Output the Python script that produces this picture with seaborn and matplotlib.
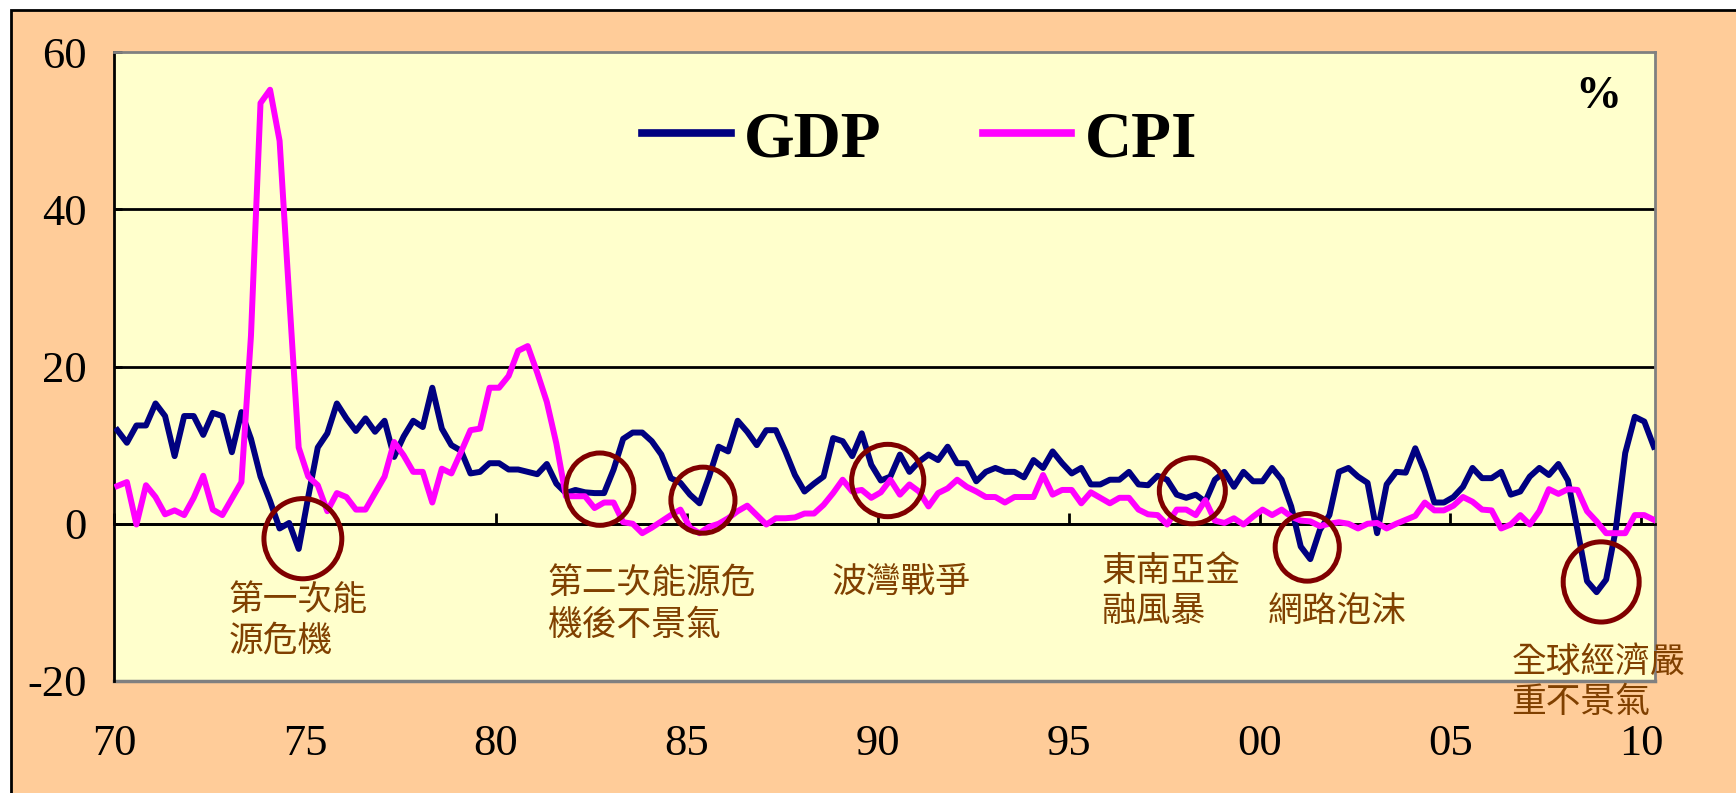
import matplotlib
matplotlib.use('Agg')
import matplotlib.pyplot as plt
from matplotlib.patches import Ellipse, Rectangle
from matplotlib.lines import Line2D
import numpy as np
import pandas as pd
import seaborn as sns

# Quarterly growth rates (%), 1970Q1 - 2010Q2
gdp = [11.9, 10.3, 12.5, 12.5, 15.3, 13.7, 8.6, 13.7, 13.7, 11.3,
       14.1, 13.7, 9.1, 14.2, 10.8, 6.0, 2.9, -0.6, 0.1, -3.2,
       3.4, 9.7, 11.5, 15.3, 13.4, 11.8, 13.4, 11.7, 13.1, 8.5,
       11.1, 13.1, 12.3, 17.3, 12.1, 10.0, 9.3, 6.4, 6.6, 7.7,
       7.7, 6.9, 6.9, 6.6, 6.3, 7.6, 5.1, 3.9, 4.3, 4.0,
       3.9, 3.9, 6.9, 10.8, 11.6, 11.6, 10.5, 8.8, 5.8, 5.2,
       3.7, 2.6, 6.0, 9.8, 9.2, 13.1, 11.7, 10.0, 11.9, 11.9,
       9.2, 6.2, 4.1, 5.1, 6.0, 10.9, 10.5, 8.6, 11.5, 7.5,
       5.5, 6.0, 8.8, 6.6, 7.9, 8.8, 8.1, 9.8, 7.7, 7.7,
       5.4, 6.6, 7.1, 6.6, 6.6, 5.9, 8.1, 7.1, 9.2, 7.7,
       6.4, 7.1, 5.0, 5.0, 5.6, 5.6, 6.6, 5.0, 4.9, 6.1,
       5.6, 3.7, 3.3, 3.7, 2.8, 5.6, 6.6, 4.7, 6.6, 5.4,
       5.4, 7.1, 5.6, 2.2, -2.9, -4.5, -0.8, 1.1, 6.6, 7.1,
       6.0, 5.2, -1.2, 5.0, 6.6, 6.5, 9.6, 6.6, 2.7, 2.7,
       3.4, 4.7, 7.1, 5.8, 5.8, 6.6, 3.7, 4.1, 6.0, 7.1,
       6.2, 7.6, 5.5, -0.8, -7.3, -8.7, -7.1, -0.8, 9.0, 13.6,
       13.0, 9.8]

cpi = [4.8, 5.3, -0.1, 4.9, 3.4, 1.2, 1.7, 1.1, 3.3, 6.1,
       1.8, 1.1, 3.2, 5.3, 23.9, 53.5, 55.2, 48.7, 29.0, 9.7,
       6.0, 4.9, 1.6, 3.9, 3.4, 1.8, 1.8, 3.9, 6.0, 10.4,
       8.7, 6.6, 6.6, 2.7, 7.0, 6.4, 9.1, 11.9, 12.1, 17.3,
       17.3, 18.8, 22.0, 22.6, 19.2, 15.5, 10.2, 3.5, 3.5, 3.5,
       2.0, 2.7, 2.7, 0.2, 0.0, -1.2, -0.5, 0.3, 1.1, 1.8,
       -0.5, -1.2, -0.4, 0.0, 0.7, 1.6, 2.3, 1.1, -0.1, 0.7,
       0.7, 0.8, 1.3, 1.3, 2.4, 3.9, 5.6, 4.1, 4.3, 3.3,
       4.0, 5.6, 3.7, 5.0, 4.1, 2.2, 3.9, 4.5, 5.6, 4.7,
       4.1, 3.4, 3.4, 2.7, 3.4, 3.4, 3.4, 6.2, 3.7, 4.3,
       4.3, 2.6, 4.0, 3.3, 2.6, 3.3, 3.3, 1.8, 1.2, 1.1,
       -0.1, 1.8, 1.8, 1.1, 3.0, 0.4, 0.1, 0.7, -0.1, 0.9,
       1.8, 1.1, 1.8, 0.9, 0.4, 0.3, -0.3, 0.0, 0.2, 0.0,
       -0.6, 0.0, 0.1, -0.6, 0.0, 0.5, 1.0, 2.7, 1.7, 1.7,
       2.3, 3.4, 2.8, 1.8, 1.7, -0.6, -0.1, 1.1, -0.1, 1.6,
       4.4, 3.8, 4.4, 4.3, 1.6, 0.3, -1.2, -1.2, -1.2, 1.1,
       1.1, 0.5]

year = np.repeat(np.arange(1970, 2011), 4)[:len(gdp)]
quarter = np.tile([1, 2, 3, 4], 41)[:len(gdp)]

tick_years = [1970, 1975, 1980, 1985, 1990, 1995, 2000, 2005, 2010]
tick_labels = ['70', '75', '80', '85', '90', '95', '00', '05', '10']

# recessions marked with circles
event_labels = ['第一次能\n源危機', '第二次能源危\n機後不景氣', '波灣戰爭',
                '東南亞金\n融風暴', '網路泡沫', '全球經濟嚴\n重不景氣']
event_text_pos = [(1973.0, -12.3), (1981.34, -10.3), (1988.8, -7.4),
                  (1995.85, -8.6), (2000.22, -11.2), (2006.6, -20.2)]
circle_pos = [(1974.94, -1.9), (1982.72, 4.4), (1985.42, 3.0), (1990.26, 5.5),
              (1998.24, 4.2), (2001.25, -3.0), (2008.95, -7.4)]
circle_size = [(2.04, 10.2), (1.78, 9.2), (1.68, 8.4), (1.89, 9.2),
               (1.73, 8.4), (1.68, 8.6), (1.99, 10.2)]

df = pd.DataFrame({'t': year + (quarter - 1) / 4 + 0.08, 'GDP': gdp, 'CPI': cpi})
df = df.melt(id_vars='t', var_name='series', value_name='value')

plt.rcParams['font.family'] = ['Liberation Serif', 'Noto Sans CJK TC']
plt.rcParams['axes.unicode_minus'] = False

fig = plt.figure(figsize=(17.36, 7.93), dpi=100, facecolor='white')
# peach chart area with black frame on the left/top
fig.patches.append(Rectangle((11 / 1736, -0.05), 1.2, 1.05 - 10 / 793, transform=fig.transFigure,
                             facecolor='#FFCC99', edgecolor='black', lw=2, zorder=-10))

ax = fig.add_axes([114.3 / 1736, 1 - 681 / 793, (1655 - 114.3) / 1736, 629 / 793])
ax.set_facecolor('#FFFFCC')

sns.lineplot(data=df, x='t', y='value', hue='series',
             palette={'GDP': '#000080', 'CPI': '#FF00FF'},
             linewidth=4.3, estimator=None, sort=False, ax=ax, zorder=3)

ax.set_xlim(1970, 2010.36)
ax.set_ylim(-20, 60)
ax.set_xlabel('')
ax.set_ylabel('')

ax.set_yticks([-20, 0, 20, 40, 60])
ax.set_xticks(tick_years)
ax.set_xticklabels(tick_labels)

ax.yaxis.grid(True, color='black', lw=2)
gl = ax.get_ygridlines()
gl[0].set_visible(False)
gl[-1].set_visible(False)
ax.set_axisbelow(True)

# x axis runs along zero line, labels sit below the plot
ax.spines['bottom'].set_position(('data', 0))
ax.spines['bottom'].set_color('black')
ax.spines['bottom'].set_linewidth(2)
ax.spines['left'].set_color('black')
ax.spines['left'].set_linewidth(2)
for s in ['top', 'right']:
    ax.spines[s].set_color('#808080')
    ax.spines[s].set_linewidth(2)
ax.add_line(Line2D([0, 1], [0, 0], transform=ax.transAxes, color='#808080', lw=2.5, clip_on=False))

ax.tick_params(axis='x', direction='in', length=8, width=2, pad=144, labelsize=32, colors='black')
ax.tick_params(axis='y', direction='in', length=6, width=2, pad=20, labelsize=32, colors='black')

for (cx, cy), (w, h) in zip(circle_pos, circle_size):
    ax.add_patch(Ellipse((cx, cy), w, h, fill=False, edgecolor='#800000', lw=3.6, zorder=4))

for label, (tx, ty) in zip(event_labels, event_text_pos):
    ax.text(tx, ty, label, ha='left', va='center', fontsize=25, color='#804000',
            family=['Noto Sans CJK TC'], linespacing=1.2, clip_on=False, zorder=5)

ax.text(0.963, 0.928, '%', transform=ax.transAxes, ha='center', va='center',
        fontsize=33, fontweight='bold')

handles, labels = ax.get_legend_handles_labels()
leg = ax.legend(handles, labels, loc='center left', bbox_to_anchor=(0.3425, 0.86), ncol=2,
                frameon=False, prop={'family': 'Liberation Serif', 'weight': 'bold', 'size': 47},
                handlelength=1.36, handletextpad=0.2, columnspacing=1.55,
                borderpad=0, borderaxespad=0)
for line in leg.get_lines():
    line.set_linewidth(5.5)

fig.savefig('out.png', dpi=100, facecolor='white')
